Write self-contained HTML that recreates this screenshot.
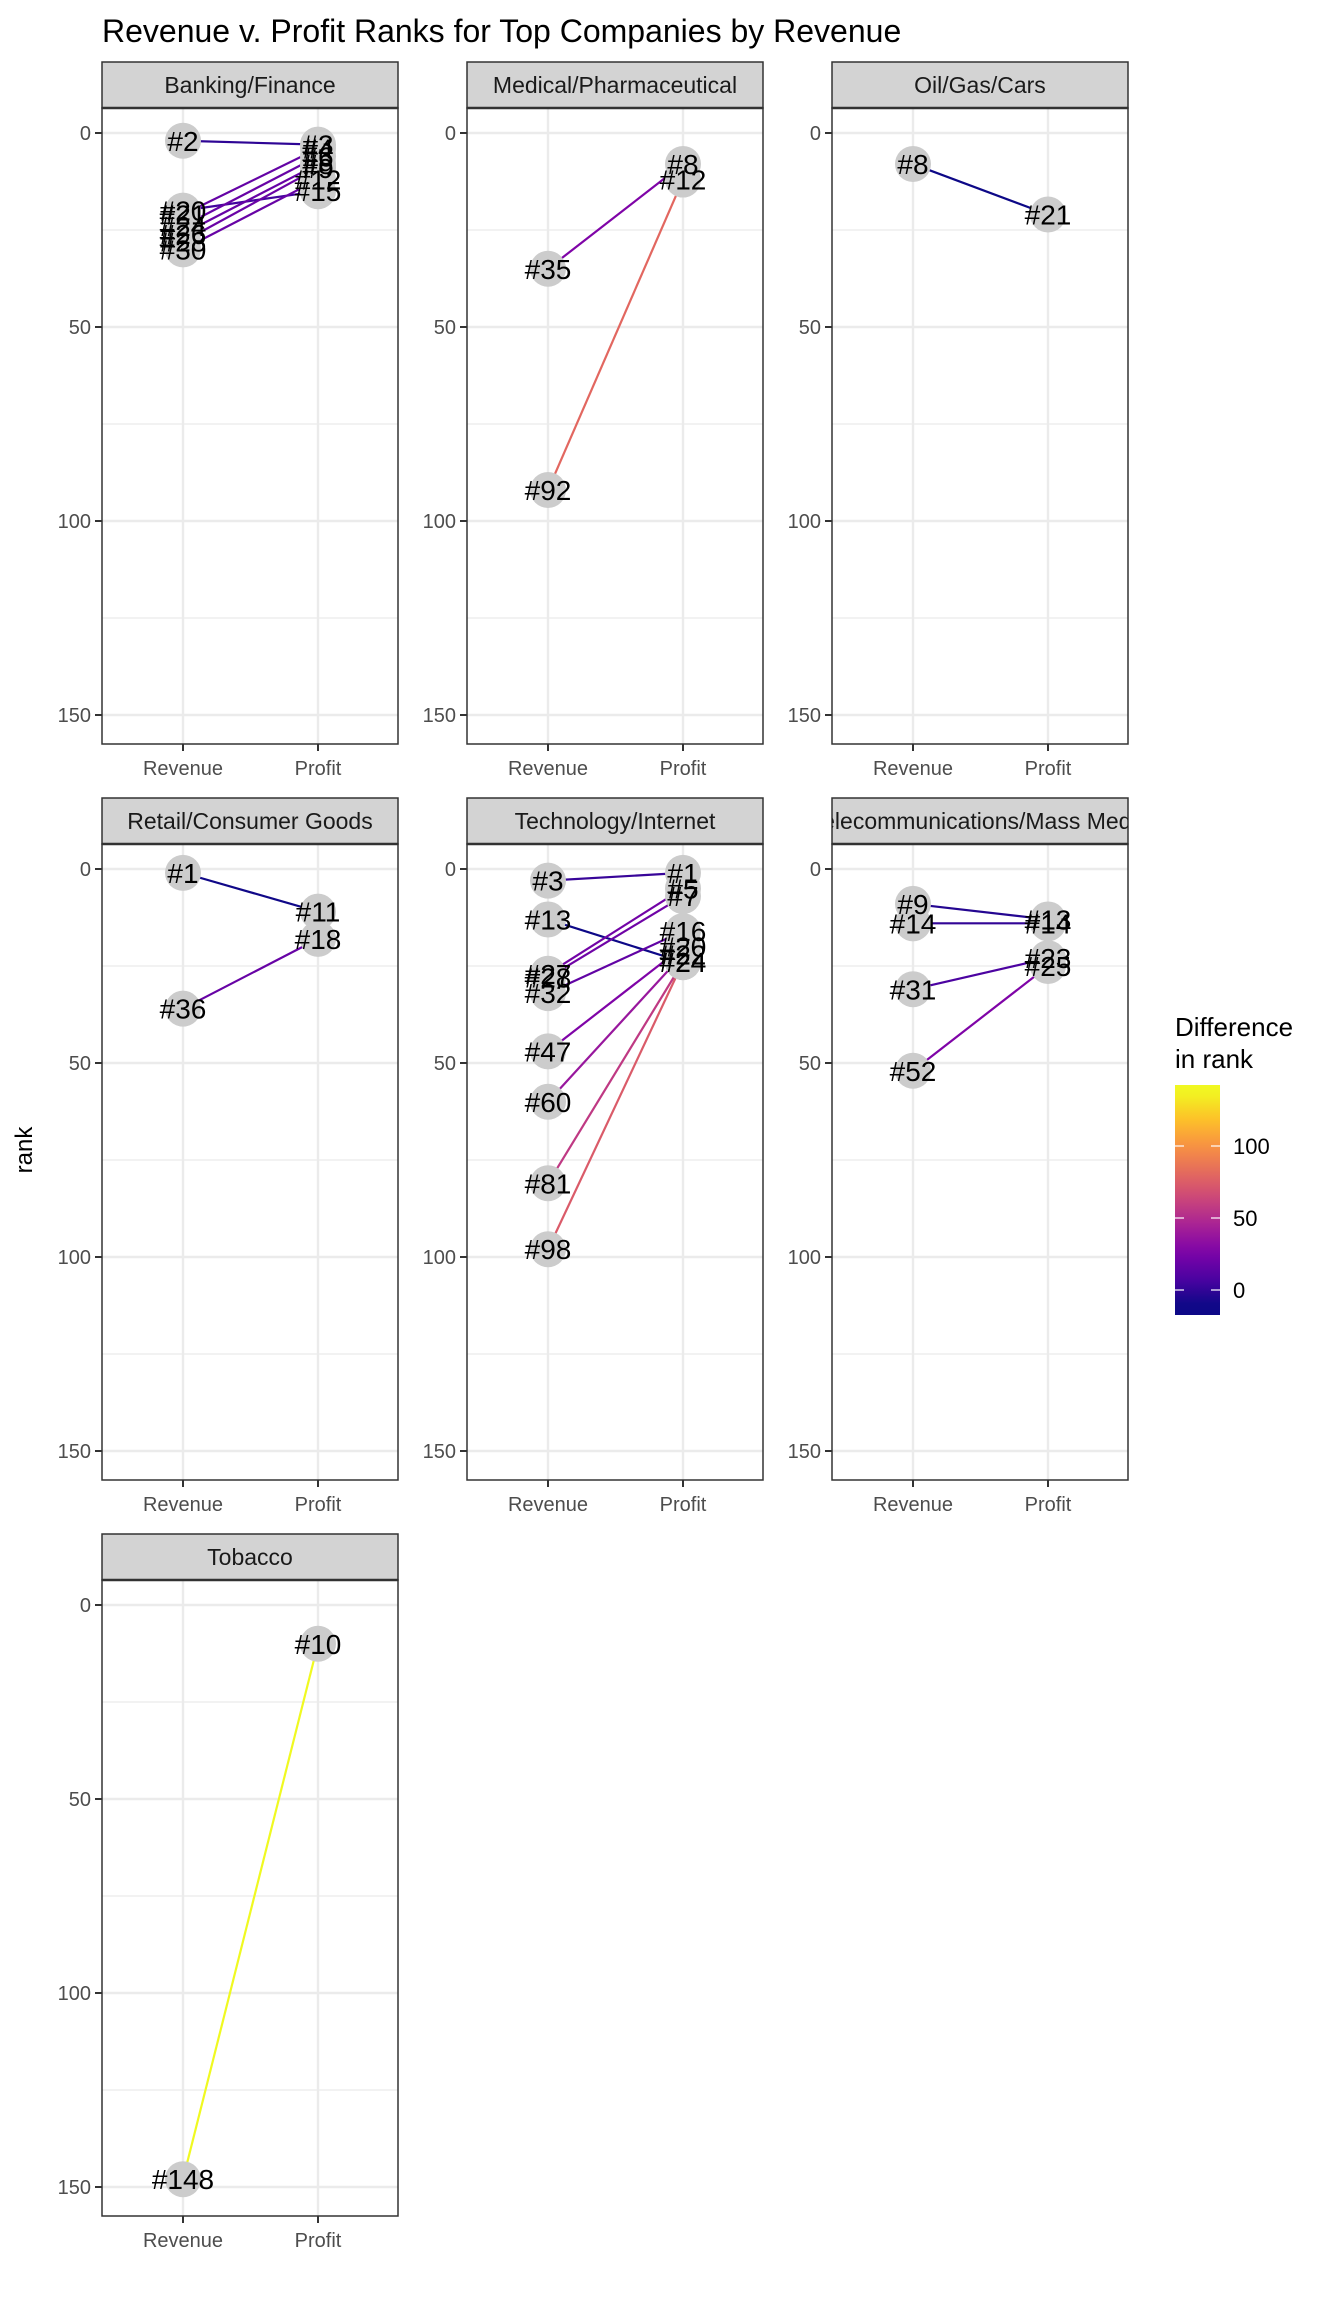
<!DOCTYPE html>
<html><head><meta charset="utf-8"><style>
html,body{margin:0;padding:0;background:#fff;}
svg{display:block;font-family:"Liberation Sans",Arial,sans-serif;}
</style></head><body>
<svg id="chart" width="1344" height="2304" viewBox="0 0 1344 2304" xmlns="http://www.w3.org/2000/svg">
<text x="102" y="42" font-size="32" fill="#000">Revenue v. Profit Ranks for Top Companies by Revenue</text>
<text transform="translate(32,1150) rotate(-90)" font-size="24" text-anchor="middle" fill="#000">rank</text>
<g id="panels"></g>
<g id="legend"></g>
</svg>
<script>
const panelNames = ["Banking/Finance","Medical/Pharmaceutical","Oil/Gas/Cars","Retail/Consumer Goods","Technology/Internet","Telecommunications/Mass Media","Tobacco"];
const revenueRanks = [
  [2,20,21,24,26,28,30],
  [35,92],
  [8],
  [1,36],
  [3,13,27,28,32,47,60,81,98],
  [9,14,31,52],
  [148]
];
const profitRanks = [
  [3,15,4,6,8,9,12],
  [8,12],
  [21],
  [11,18],
  [1,24,5,7,16,20,22,24,24],
  [13,14,23,25],
  [10]
];
const yTicks = [0,50,100,150];
const yMinor = [25,75,125];
const xCats = ["Revenue","Profit"];
const legendTicks = [0,50,100];

const NS="http://www.w3.org/2000/svg";
const colX=[102,467,832], rowTop=[62,798,1534], PW=296, SH=46, PH=636;
const zeroOff=25, pxPerUnit=3.88;
function yScale(top,v){return top+zeroOff+v*pxPerUnit;}
function xScale(left,i){return left+(i===0?81:216);}
const plasma=[[13,8,135],[75,3,161],[125,3,168],[168,34,150],[203,70,121],[229,107,93],[248,148,65],[253,195,40],[240,249,33]];
const cMin=-11,cMax=138;
function plasmaColor(v){let t=Math.max(0,Math.min(1,(v-cMin)/(cMax-cMin)))*(plasma.length-1);let i=Math.min(Math.floor(t),plasma.length-2),f=t-i;const a=plasma[i],b=plasma[i+1];return `rgb(${Math.round(a[0]+(b[0]-a[0])*f)},${Math.round(a[1]+(b[1]-a[1])*f)},${Math.round(a[2]+(b[2]-a[2])*f)})`;}
function mk(tag,attrs,parent){const e=document.createElementNS(NS,tag);for(const k in attrs)e.setAttribute(k,attrs[k]);parent.appendChild(e);return e;}
const root=document.getElementById('panels');
panelNames.forEach((name,p)=>{
  const left=colX[p%3], top=rowTop[Math.floor(p/3)], pt=top+SH, pb=pt+PH;
  const g=mk('g',{},root);
  
  
  mk('rect',{x:left,y:pt,width:PW,height:PH,fill:'#fff'},g);
  yMinor.forEach(v=>{mk('line',{x1:left,x2:left+PW,y1:yScale(pt,v),y2:yScale(pt,v),stroke:'#ebebeb','stroke-width':1.2},g);});
  yTicks.forEach(v=>{mk('line',{x1:left,x2:left+PW,y1:yScale(pt,v),y2:yScale(pt,v),stroke:'#ebebeb','stroke-width':2.4},g);});
  xCats.forEach((c,i)=>{mk('line',{x1:xScale(left,i),x2:xScale(left,i),y1:pt,y2:pb,stroke:'#ebebeb','stroke-width':2.4},g);});
  const s=mk('rect',{x:left,y:top,width:PW,height:SH,fill:'#d3d3d3',stroke:'#333','stroke-width':1.5},g);
  
  
  mk('line',{x1:left,x2:left+PW,y1:pt,y2:pt,stroke:'#333','stroke-width':2.5},g);
  const cp=mk('clipPath',{id:'cp'+p},g);mk('rect',{x:left,y:top,width:PW,height:SH},cp);
  const st=mk('text',{x:left+PW/2,y:top+31,'font-size':23,'text-anchor':'middle',fill:'#1a1a1a','clip-path':`url(#cp${p})`},g);
  st.textContent=name;
  
  
  yTicks.forEach(v=>{const y=yScale(pt,v);mk('line',{x1:left-7,x2:left,y1:y,y2:y,stroke:'#333','stroke-width':2},g);
    const t=mk('text',{x:left-11,y:y+7,'font-size':20,'text-anchor':'end',fill:'#4d4d4d'},g);t.textContent=v;
    
    });
  xCats.forEach((c,i)=>{const x=xScale(left,i);mk('line',{x1:x,x2:x,y1:pb,y2:pb+7,stroke:'#333','stroke-width':2},g);
    const t=mk('text',{x:x,y:pb+31,'font-size':20,'text-anchor':'middle',fill:'#4d4d4d'},g);t.textContent=c;
    
    });
  const rv=revenueRanks[p], pr=profitRanks[p];
  rv.forEach((r,k)=>{const l=mk('line',{x1:xScale(left,0),y1:yScale(pt,r),x2:xScale(left,1),y2:yScale(pt,pr[k]),stroke:plasmaColor(r-pr[k]),'stroke-width':2.2},g);
    
    });
  const pts=[];rv.forEach((r,k)=>{pts.push([0,r]);pts.push([1,pr[k]]);});
  pts.forEach(([i,v])=>{const c=mk('circle',{cx:xScale(left,i),cy:yScale(pt,v),r:18,fill:'#cccccc'},g);
    
    });
  pts.forEach(([i,v])=>{const t=mk('text',{x:xScale(left,i),y:yScale(pt,v)+10,'font-size':28,'text-anchor':'middle',fill:'#000'},g);t.textContent='#'+v;
    
    });
  mk('rect',{x:left,y:pt,width:PW,height:PH,fill:'none',stroke:'#333','stroke-width':1.5},g);
});
const lg=document.getElementById('legend');
const barX=1175,barTop=1085,barBot=1315,zeroY=1290,ppu=1.44;
const lt=mk('text',{x:barX,y:1036,'font-size':26,fill:'#000'},lg);lt.textContent='Difference';


const lt2=mk('text',{x:barX,y:1068,'font-size':26,fill:'#000'},lg);lt2.textContent='in rank';


const defs=mk('defs',{},lg);const gr=mk('linearGradient',{id:'pg',x1:0,y1:1,x2:0,y2:0},defs);
const vTop=(zeroY-barTop)/ppu, vBot=(zeroY-barBot)/ppu;
for(let k=0;k<=20;k++){const v=vBot+(vTop-vBot)*k/20;mk('stop',{offset:k/20,'stop-color':plasmaColor(v)},gr);}
const bar=mk('rect',{x:barX,y:barTop,width:45,height:barBot-barTop,fill:'url(#pg)'},lg);


legendTicks.forEach(v=>{const y=zeroY-v*ppu;
  mk('line',{x1:barX,x2:barX+9,y1:y,y2:y,stroke:'#fff','stroke-width':1.5,opacity:0.8},lg);
  mk('line',{x1:barX+36,x2:barX+45,y1:y,y2:y,stroke:'#fff','stroke-width':1.5,opacity:0.8},lg);
  const t=mk('text',{x:barX+58,y:y+8,'font-size':22,fill:'#000'},lg);t.textContent=v;
  
  });
</script>
</body></html>
